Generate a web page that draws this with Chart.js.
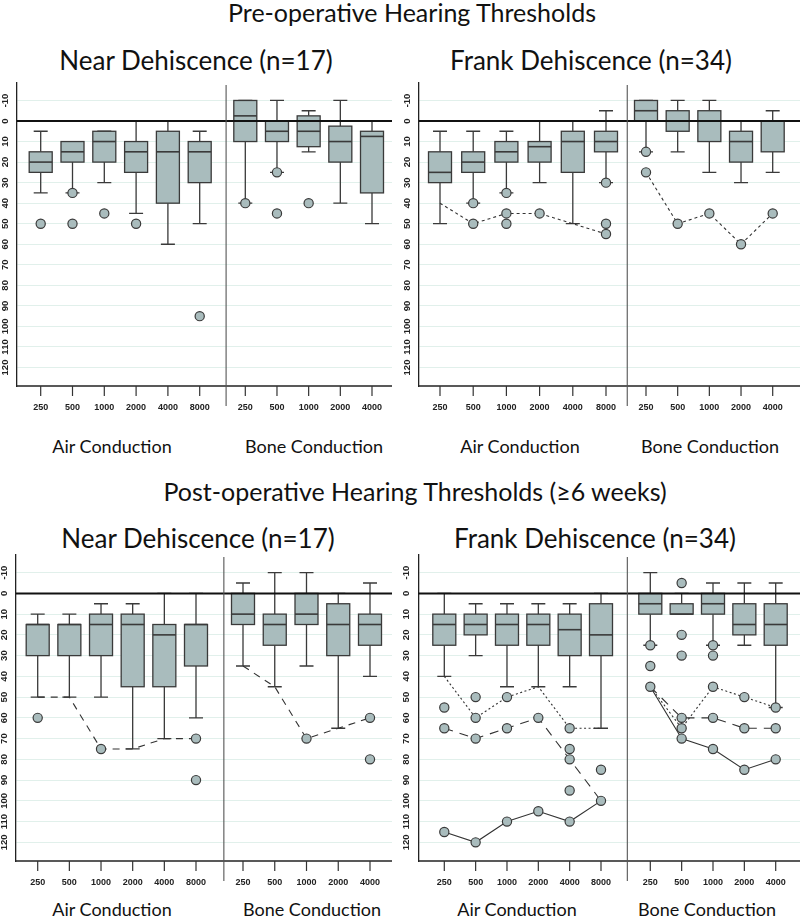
<!DOCTYPE html>
<html>
<head>
<meta charset="utf-8">
<script src="https://cdn.jsdelivr.net/npm/chart.js@4.4.1/dist/chart.umd.min.js"></script>
<style>
body { margin: 0; background: #fff; width: 800px; height: 917px; position: relative; overflow: hidden; font-family: Lato, sans-serif; color: #111; }
.t { position: absolute; white-space: nowrap; transform: translateX(-50%); line-height: 1; }
canvas { position: absolute; }
</style>
</head>
<body>
<div class="t" style="left:412px;top:0px;font-size:25px">Pre-operative Hearing Thresholds</div>
<div class="t" style="left:196px;top:47px;font-size:26px">Near Dehiscence (n=17)</div>
<div class="t" style="left:591px;top:47px;font-size:26px">Frank Dehiscence (n=34)</div>
<div class="t" style="left:112px;top:437px;font-size:18px">Air Conduction</div>
<div class="t" style="left:314px;top:437px;font-size:18px">Bone Conduction</div>
<div class="t" style="left:520px;top:437px;font-size:18px">Air Conduction</div>
<div class="t" style="left:710px;top:437px;font-size:18px">Bone Conduction</div>

<div class="t" style="left:415px;top:479px;font-size:25px">Post-operative Hearing Thresholds (≥6 weeks)</div>
<div class="t" style="left:198px;top:525px;font-size:26px">Near Dehiscence (n=17)</div>
<div class="t" style="left:595px;top:525px;font-size:26px">Frank Dehiscence (n=34)</div>
<div class="t" style="left:112px;top:900px;font-size:18px">Air Conduction</div>
<div class="t" style="left:312px;top:900px;font-size:18px">Bone Conduction</div>
<div class="t" style="left:517px;top:900px;font-size:18px">Air Conduction</div>
<div class="t" style="left:707px;top:900px;font-size:18px">Bone Conduction</div>

<canvas id="preNear" width="400" height="345" style="left:0;top:75px"></canvas>
<canvas id="preFrank" width="400" height="345" style="left:400px;top:75px"></canvas>
<canvas id="postNear" width="400" height="345" style="left:0;top:547px"></canvas>
<canvas id="postFrank" width="400" height="345" style="left:400px;top:547px"></canvas>

<script>
// ---- data (dB HL) ----
const AIR_FREQS = ['250', '500', '1000', '2000', '4000', '8000'];
const BONE_FREQS = ['250', '500', '1000', '2000', '4000'];

// box stats per frequency: [whisker min, q1, median, q3, whisker max]
const preNearAir  = [[5,15,20,25,35], [10,10,15,20,35], [5,5,10,20,30], [0,10,15,25,45], [0,5,15,40,60], [5,10,15,30,50]];
const preNearBone = [[-10,-10,-2.5,10,40], [-10,0,5,10,25], [-5,-2.5,5,12.5,15], [-10,2.5,10,20,40], [0,5,7.5,35,50]];
const preNearAirOut  = [[50], [35,50], [45], [50], [], [95]];
const preNearBoneOut = [[40], [25,45], [40], [], []];

const preFrankAir  = [[5,15,25,30,50], [5,15,20,25,40], [5,10,15,20,35], [0,10,12.5,20,30], [0,5,10,25,50], [-5,5,10,15,30]];
const preFrankBone = [[-10,-10,-5,0,15], [-10,-5,0,5,15], [-10,-5,0,10,25], [0,5,10,20,30], [-5,0,0,15,25]];
const preFrankAirOut  = [[], [40,50], [35,45,50], [45], [], [30,50,55]];
const preFrankBoneOut = [[15,25], [50], [45], [60], [45]];
const preFrankAirLine  = [40, 50, 45, 45, 50, 55];
const preFrankBoneLine = [25, 50, 45, 60, 45];

const postNearAir  = [[10,15,15,30,50], [10,15,15,30,50], [5,10,15,30,50], [5,10,15,45,75], [0,15,20,45,70], [0,15,15,35,60]];
const postNearBone = [[-5,0,10,15,35], [-10,10,15,25,45], [-10,0,10,15,35], [0,5,15,30,65], [-5,10,15,25,40]];
const postNearAirOut  = [[60], [], [75], [], [], [70,90]];
const postNearBoneOut = [[], [], [70], [], [60,80]];
const postNearAirLine  = [50, 50, 75, 75, 70, 70];
const postNearBoneLine = [35, 45, 70, 65, 60];

const postFrankAir  = [[0,10,15,25,40], [5,10,15,20,30], [5,10,15,25,45], [5,10,15,25,45], [5,10,17.5,30,45], [0,5,20,30,65]];
const postFrankBone = [[-10,0,5,10,25], [0,5,10,10,10], [-5,0,5,10,25], [-5,5,15,20,25], [-5,5,15,25,55]];
const postFrankAirOut  = [[55,65,115], [50,60,70,120], [50,65,110], [60,105], [65,75,80,95,110], [85,100]];
const postFrankBoneOut = [[25,35,45], [-5,20,30,60,65,70], [25,30,45,60,75], [50,65,85], [55,65,80]];
const postFrankAirShort  = [40, 60, 50, 45, 65, 65];
const postFrankAirLong   = [65, 70, 65, 60, 80, 100];
const postFrankAirSolid  = [115, 120, 110, 105, 110, 100];
const postFrankBoneShort = [45, 65, 45, 50, 55];
const postFrankBoneLong  = [45, 60, 60, 65, 65];
const postFrankBoneSolid = [45, 70, 75, 85, 80];

const Y_TICKS = [-10, 0, 10, 20, 30, 40, 50, 60, 70, 80, 90, 100, 110, 120];

// ---- style ----
const FILL = '#a9bcbd';
const EDGE = '#3a3a3a';
const GRID = '#e1f0eb';
const BOX_W = 23, CAP_W = 14;

const boxPlugin = {
    id: 'boxes',
    beforeDatasetsDraw(chart, args, opts) {
        const ctx = chart.ctx, y = chart.scales.y, area = chart.chartArea;
        ctx.save();
        [['xa', opts.air], ['xb', opts.bone]].forEach(([id, stats]) => {
            const x = chart.scales[id];
            stats.forEach((s, i) => {
                const cx = x.getPixelForValue(i + 1);
                const [mn, q1, md, q3, mx] = s.map(v => y.getPixelForValue(v));
                ctx.strokeStyle = EDGE;
                ctx.lineWidth = 1.3;
                ctx.beginPath();
                ctx.moveTo(cx, q1); ctx.lineTo(cx, mn);
                ctx.moveTo(cx, q3); ctx.lineTo(cx, mx);
                ctx.moveTo(cx - CAP_W / 2, mn); ctx.lineTo(cx + CAP_W / 2, mn);
                ctx.moveTo(cx - CAP_W / 2, mx); ctx.lineTo(cx + CAP_W / 2, mx);
                ctx.stroke();
                ctx.fillStyle = FILL;
                ctx.fillRect(cx - BOX_W / 2, q1, BOX_W, q3 - q1);
                ctx.strokeRect(cx - BOX_W / 2, q1, BOX_W, q3 - q1);
                ctx.lineWidth = 1.6;
                ctx.beginPath();
                ctx.moveTo(cx - BOX_W / 2, md); ctx.lineTo(cx + BOX_W / 2, md);
                ctx.stroke();
            });
        });
        // reference line at 0 dB
        const z = y.getPixelForValue(0);
        ctx.strokeStyle = '#111';
        ctx.lineWidth = 2;
        ctx.beginPath();
        ctx.moveTo(area.left, z); ctx.lineTo(area.right, z);
        ctx.stroke();
        ctx.restore();
    },
    afterDraw(chart, args, opts) {
        const ctx = chart.ctx, y = chart.scales.y, area = chart.chartArea;
        const xa = chart.scales.xa, xb = chart.scales.xb;
        ctx.save();
        // bottom axis
        ctx.strokeStyle = '#222';
        ctx.lineWidth = 1.3;
        ctx.beginPath();
        ctx.moveTo(area.left, area.bottom); ctx.lineTo(area.right, area.bottom);
        ctx.stroke();
        // divider between air and bone
        const dx = xa.getPixelForValue(opts.divider);
        ctx.strokeStyle = '#555';
        ctx.lineWidth = 1.1;
        ctx.beginPath();
        ctx.moveTo(dx, area.top + 2); ctx.lineTo(dx, area.bottom + 20);
        ctx.stroke();
        // x ticks and labels
        ctx.strokeStyle = '#333';
        ctx.lineWidth = 1.2;
        ctx.fillStyle = '#222';
        ctx.font = 'bold 9px "Liberation Sans"';
        ctx.textAlign = 'center';
        ctx.textBaseline = 'middle';
        [[xa, AIR_FREQS], [xb, BONE_FREQS]].forEach(([sc, labels]) => {
            labels.forEach((lab, i) => {
                const px = sc.getPixelForValue(i + 1);
                ctx.beginPath();
                ctx.moveTo(px, area.bottom); ctx.lineTo(px, area.bottom + 10);
                ctx.stroke();
                ctx.fillText(lab, px, area.bottom + 22);
            });
        });
        // rotated y labels
        ctx.font = 'bold 9.5px "Liberation Sans"';
        Y_TICKS.forEach(v => {
            const py = y.getPixelForValue(v);
            ctx.save();
            ctx.translate(area.left - 12, py);
            ctx.rotate(-Math.PI / 2);
            ctx.fillText(String(v), 0, 0);
            ctx.restore();
        });
        ctx.restore();
    }
};

function range(L, R, p1, pn, n) {
    const unit = (pn - p1) / (n - 1);
    const min = 1 - (p1 - L) / unit;
    return { min: min, max: min + (R - L) / unit };
}

function pts(vals) { return vals.map((v, i) => ({ x: i + 1, y: v })); }
function outPts(lists) {
    const out = [];
    lists.forEach((l, i) => l.forEach(v => out.push({ x: i + 1, y: v })));
    return out;
}

function makePanel(id, lay, air, bone, airOut, boneOut, lines) {
    const cv = document.getElementById(id);
    const W = cv.width, H = cv.height;
    const ra = range(lay.L, lay.R, lay.air[0], lay.air[1], AIR_FREQS.length);
    const rb = range(lay.L, lay.R, lay.bone[0], lay.bone[1], BONE_FREQS.length);
    const outStyle = {
        type: 'scatter', showLine: false, order: 0,
        pointRadius: 4.6, pointBackgroundColor: FILL, pointBorderColor: EDGE, pointBorderWidth: 1.2
    };
    const datasets = [
        Object.assign({ data: outPts(airOut), xAxisID: 'xa' }, outStyle),
        Object.assign({ data: outPts(boneOut), xAxisID: 'xb' }, outStyle)
    ];
    lines.forEach(l => {
        datasets.push({
            type: 'line', data: pts(l.vals), xAxisID: l.axis, order: 1,
            borderColor: '#333', borderWidth: 1.1, borderDash: l.dash,
            pointRadius: 0, tension: 0, fill: false
        });
    });
    return new Chart(cv, {
        type: 'scatter',
        data: { datasets: datasets },
        plugins: [boxPlugin],
        options: {
            responsive: false,
            animation: false,
            devicePixelRatio: 1,
            layout: {
                autoPadding: false,
                padding: { left: lay.L - lay.cx, right: lay.cx + W - lay.R, top: lay.T - lay.cy, bottom: lay.cy + H - lay.B }
            },
            scales: {
                xa: { type: 'linear', axis: 'x', position: 'bottom', display: false, min: ra.min, max: ra.max },
                xb: { type: 'linear', axis: 'x', position: 'bottom', display: false, min: rb.min, max: rb.max },
                y: {
                    type: 'linear', reverse: true, min: -18.5, max: 129,
                    afterFit: s => { s.width = 0; },
                    ticks: { display: false, stepSize: 10 },
                    grid: {
                        drawTicks: false, lineWidth: 1,
                        color: c => (c.tick && c.tick.value % 10 === 0 && c.tick.value !== 0) ? GRID : 'rgba(0,0,0,0)'
                    },
                    border: { display: true, color: '#222', width: 1.3 }
                }
            },
            plugins: {
                legend: { display: false },
                tooltip: { enabled: false },
                boxes: { air: air, bone: bone, divider: lay.divider }
            }
        }
    });
}

makePanel('preNear',
    { cx: 0, cy: 75, L: 17, R: 392, T: 83, B: 386, air: [40.7, 199.7], bone: [245.3, 372], divider: 6.83 },
    preNearAir, preNearBone, preNearAirOut, preNearBoneOut, []);

makePanel('preFrank',
    { cx: 400, cy: 75, L: 419, R: 800, T: 83, B: 386, air: [440, 606], bone: [646, 772.7], divider: 6.64 },
    preFrankAir, preFrankBone, preFrankAirOut, preFrankBoneOut, [
        { vals: preFrankAirLine, axis: 'xa', dash: [3, 3] },
        { vals: preFrankBoneLine, axis: 'xb', dash: [3, 3] }
    ]);

makePanel('postNear',
    { cx: 0, cy: 547, L: 16, R: 392, T: 555, B: 861, air: [37.7, 196], bone: [243, 370], divider: 6.88 },
    postNearAir, postNearBone, postNearAirOut, postNearBoneOut, [
        { vals: postNearAirLine, axis: 'xa', dash: [7, 6] },
        { vals: postNearBoneLine, axis: 'xb', dash: [7, 6] }
    ]);

makePanel('postFrank',
    { cx: 400, cy: 547, L: 418.3, R: 800, T: 555, B: 861, air: [444.3, 601], bone: [650.3, 775.7], divider: 6.84 },
    postFrankAir, postFrankBone, postFrankAirOut, postFrankBoneOut, [
        { vals: postFrankAirShort, axis: 'xa', dash: [2, 2.5] },
        { vals: postFrankAirLong, axis: 'xa', dash: [9, 7] },
        { vals: postFrankAirSolid, axis: 'xa', dash: [] },
        { vals: postFrankBoneShort, axis: 'xb', dash: [2, 2.5] },
        { vals: postFrankBoneLong, axis: 'xb', dash: [9, 7] },
        { vals: postFrankBoneSolid, axis: 'xb', dash: [] }
    ]);
</script>
</body>
</html>
